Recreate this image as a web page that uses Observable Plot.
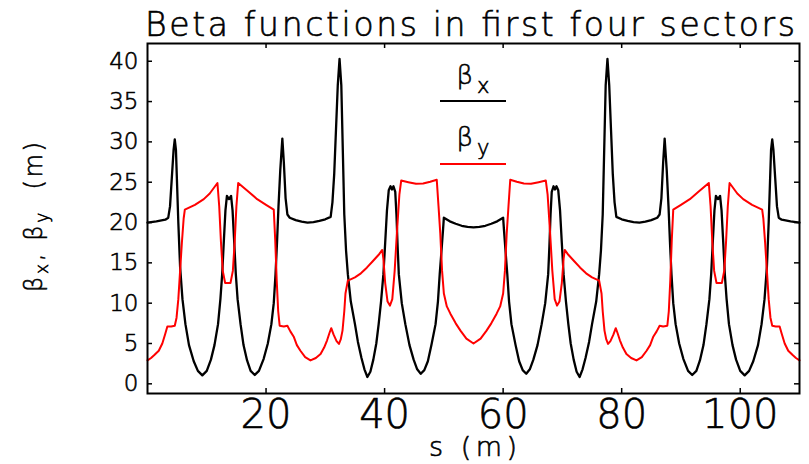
<!DOCTYPE html>
<html><head><meta charset="utf-8">
<script src="https://cdn.jsdelivr.net/npm/d3@7"></script>
<script src="https://cdn.jsdelivr.net/npm/@observablehq/plot@0.6"></script>
<style>
html,body{margin:0;padding:0;background:#fff;}
#chart{width:809px;height:464px;}
svg text{font-weight:200;stroke:#000;stroke-width:0.6px;}
</style></head><body><div id="chart"></div>
<script>
const title = "Beta functions in first four sectors";
const xTicks = [20, 40, 60, 80, 100];
const yTicks = [0, 5, 10, 15, 20, 25, 30, 35, 40];

// beta_x (black)
const bxS = [0,1.5,3,3.5,3.8,4.1,4.4,4.6,4.8,5,5.2,5.5,5.9,6.4,7,7.8,8.5,9.25,10,10.7,11.3,11.9,12.3,12.6,12.9,13.15,13.4,13.75,14.1,14.35,14.6,14.9,15.2,15.7,16.2,16.8,17.4,18.1,18.8,19.6,20.3,20.9,21.3,21.6,21.85,22.1,22.4,22.75,23,23.3,23.6,24,25,26,27,28,29,30,30.9,31.2,31.5,31.8,32.1,32.4,32.7,32.95,33.2,33.5,33.8,34.3,35,35.5,36.1,36.6,37.1,37.6,38.1,38.6,39,39.4,39.8,40.1,40.4,40.7,41,41.25,41.5,41.8,42,42.2,42.4,42.9,43.5,44.2,44.9,45.5,46.1,46.7,47.3,47.9,48.6,49,49.3,49.6,49.85,50,51,52,53,54,55,
  56,57,58,59,60,60.15,60.4,60.7,61,61.4,62.1,62.7,63.3,63.9,64.5,65.1,65.8,66.5,67.1,67.6,67.8,68,68.2,68.5,68.75,69,69.3,69.6,69.9,70.2,70.6,71,71.4,71.9,72.4,72.9,73.4,73.9,74.5,75,75.7,76.2,76.5,76.8,77.05,77.3,77.6,77.9,78.2,78.5,78.8,79.1,80,81,82,83,84,85,86,86.4,86.7,87,87.25,87.6,87.9,88.15,88.4,88.7,89.1,89.7,90.4,91.2,91.9,92.6,93.2,93.8,94.3,94.8,95.1,95.4,95.65,95.9,96.25,96.6,96.85,97.1,97.4,97.7,98.1,98.7,99.3,100,100.75,101.5,102.2,103,103.6,104.1,104.5,104.8,105,105.2,105.4,105.6,105.9,106.2,106.5,107,108.5,110];
const bxV = [20,20.15,20.35,20.6,22,25.5,29,30.3,29,24.5,20,14.5,10.5,7.4,4.8,2.8,1.6,1.05,1.6,3,4.8,7.4,10.5,13.6,18,21.5,23.3,22.9,23.3,21.5,18,13.6,10.5,7.4,4.8,2.9,1.6,1.1,1.6,3.1,5,7.4,10,13.6,17.5,22,26.5,30.4,27.5,23,21,20.6,20.3,20.1,20,20.05,20.2,20.4,20.7,22.5,26,31.5,37,40.3,37,29,21,16.5,13.6,10.2,7.4,5.2,3.2,1.8,0.85,1.5,3,5,7.4,10.2,13.6,17.5,21.5,24,24.5,24.1,24.5,23.8,21,17,13.6,10,7.4,4.8,3,1.8,1.25,1.7,2.8,4.8,7.4,10.2,13.6,16.5,19,20.6,20.15,19.85,19.6,19.45,19.4,
  19.45,19.6,19.85,20.15,20.6,19,16.5,13.6,10.2,7.4,4.8,2.8,1.7,1.25,1.8,3,4.8,7.4,10,13.6,17,21,23.8,24.5,24.1,24.5,24,21.5,17.5,13.6,10.2,7.4,5,3,1.5,0.85,1.8,3.2,5.2,7.4,10.2,13.6,16.5,21,29,37,40.3,37,31.5,26,22.5,20.7,20.4,20.2,20.05,20,20.1,20.3,20.6,21,23,27.5,30.4,26.5,22,17.5,13.6,10,7.4,5,3.1,1.6,1.1,1.6,2.9,4.8,7.4,10.5,13.6,18,21.5,23.3,22.9,23.3,21.5,18,13.6,10.5,7.4,4.8,3,1.6,1.05,1.6,2.8,4.8,7.4,10.5,14.5,20,24.5,29,30.3,29,25.5,22,20.6,20.35,20.15,20];

// beta_y (red)
const byS = [0,0.6,1.2,1.9,2.5,3,3.35,4,4.6,4.9,5.2,5.5,5.8,6.1,6.3,8,9.5,10.5,11.8,12.1,12.4,12.7,13.1,14,14.4,14.7,15,15.3,17,18.5,20,21.3,21.55,21.8,22.05,22.3,23,23.6,24.1,24.7,25.2,25.8,26.6,27.5,28.4,29.2,29.8,30.3,30.7,31,31.4,31.9,32.3,32.6,32.9,33.2,33.4,33.8,35,36,37,38,39,39.6,39.8,40.1,40.5,40.9,41.3,41.7,42.1,42.5,42.8,44,45.3,46.5,47.7,48.8,49.1,49.4,49.7,50,50.5,51.1,52,52.8,53.8,55,
  56.2,57.2,58,58.9,59.5,60,60.3,60.6,60.9,61.2,62.3,63.5,64.7,66,67.2,67.5,67.9,68.3,68.7,69.1,69.5,69.9,70.2,70.4,71,72,73,74,75,76.2,76.6,76.8,77.1,77.4,77.7,78.1,78.6,79,79.3,79.7,80.2,80.8,81.6,82.5,83.4,84.2,84.8,85.3,85.9,86.4,87,87.7,87.95,88.2,88.45,88.7,90,91.5,93,94.7,95,95.3,95.6,96,96.9,97.3,97.6,97.9,98.2,99.5,100.5,102,103.7,103.9,104.2,104.5,104.8,105.1,105.4,106,106.65,107,107.5,108.1,108.8,109.4,110];
const byV = [2.9,3.2,3.6,4.1,5,6.2,7.1,7.1,7.2,8.2,10.5,14,17.5,20.5,21.6,22.2,22.9,23.6,24.9,22,17.5,14,12.5,12.5,14,17.5,22,24.9,23.85,22.9,22.2,21.6,17.8,12.8,9,7.2,7.1,7.2,6.5,5.8,4.8,4.1,3.3,2.9,3.2,3.7,4.5,5.4,6.3,6.9,6.1,5.3,4.95,5.5,6.6,9,11.2,12.8,13.2,13.7,14.4,15.2,16,16.6,15.5,12.5,10.2,9.7,10.5,14,19,23.5,25.2,25,24.8,24.85,25.05,25.3,22,18.6,14,11.2,9.6,8.7,7.5,6.6,5.6,5,
  5.6,6.6,7.5,8.7,9.6,11.2,14,18.6,22,25.3,25.05,24.85,24.8,25,25.2,23.5,19,14,10.5,9.7,10.2,12.5,15.5,16.6,16,15.2,14.4,13.7,13.2,12.8,11.2,9,6.6,5.5,4.95,5.3,6.1,6.9,6.3,5.4,4.5,3.7,3.2,2.9,3.3,4.1,4.8,5.8,6.5,7.2,7.1,7.2,9,12.8,17.8,21.6,22.2,22.9,23.85,24.9,22,17.5,14,12.5,12.5,14,17.5,22,24.9,23.6,22.9,22.2,21.6,20.5,17.5,14,10.5,8.2,7.2,7.1,7.1,6.2,5,4.1,3.6,3.2,2.9];

if (bxS.length !== bxV.length) throw new Error("bx mismatch " + bxS.length + " " + bxV.length);
if (byS.length !== byV.length) throw new Error("by mismatch " + byS.length + " " + byV.length);

const betaX = bxS.map((s, i) => ({s, v: bxV[i]}));
const betaY = byS.map((s, i) => ({s, v: byV[i]}));

const W = 809, H = 464, mL = 147, mR = 10, mT = 43, mB = 71;
const fw = W - mL - mR, fh = H - mT - mB;
const FONT = "'DejaVu Sans', sans-serif";

const chart = Plot.plot({
  width: W, height: H,
  marginLeft: mL, marginRight: mR, marginTop: mT, marginBottom: mB,
  x: {domain: [0, 110], label: null},
  y: {domain: [-1.2, 42.2], label: null},
  style: {fontFamily: FONT, background: "white", color: "black", overflow: "visible"},
  marks: [
    Plot.line(betaX, {x: "s", y: "v", stroke: "black", strokeWidth: 2.3}),
    Plot.line(betaY, {x: "s", y: "v", stroke: "#ff0000", strokeWidth: 2}),
    Plot.frame({stroke: "black", strokeWidth: 2}),
    Plot.tickY(yTicks, {y: d => d, insetRight: fw - 5, stroke: "black", strokeWidth: 1.5}),
    Plot.tickY(yTicks, {y: d => d, insetLeft: fw - 5, stroke: "black", strokeWidth: 1.5}),
    Plot.tickX(xTicks, {x: d => d, insetBottom: fh - 5, stroke: "black", strokeWidth: 1.5}),
    Plot.tickX(xTicks, {x: d => d, insetTop: fh - 5, stroke: "black", strokeWidth: 1.5}),
    Plot.axisY({ticks: yTicks, tickSize: 0, tickPadding: 9, fontSize: 23, label: null}),
    Plot.axisX({ticks: xTicks, tickSize: 0, tickPadding: 6, fontSize: 40, label: null})
  ]
});
document.getElementById("chart").appendChild(chart);

const svg = d3.select(chart);
const xs = chart.scale("x");
const cx = (xs.range[0] + xs.range[1]) / 2;

// title
svg.append("text").attr("x", cx - 3).attr("y", 36).attr("text-anchor", "middle")
  .attr("font-family", FONT).attr("font-size", 33)
  .attr("textLength", 650).attr("lengthAdjust", "spacing").text(title);

// x label
svg.append("text").attr("x", cx).attr("y", 456).attr("text-anchor", "middle")
  .attr("font-family", FONT).attr("font-size", 27)
  .attr("textLength", 88).attr("lengthAdjust", "spacing").text("s (m)");

// y label
const yl = svg.append("text").attr("transform", "translate(42,217) rotate(-90)")
  .attr("text-anchor", "middle").attr("font-family", FONT).attr("font-size", 24)
  .attr("textLength", 150).attr("lengthAdjust", "spacing");
yl.append("tspan").text("β");
yl.append("tspan").attr("font-size", 17).attr("dy", 6).text("x");
yl.append("tspan").attr("dy", -6).text(", ");
yl.append("tspan").text("β");
yl.append("tspan").attr("font-size", 17).attr("dy", 6).text("y");
yl.append("tspan").attr("dy", -6).text("  (m)");

// legend
const legend = [
  {name: "x", color: "black", base: 84, line: 101},
  {name: "y", color: "#ff0000", base: 146, line: 164}
];
for (const l of legend) {
  const t = svg.append("text").attr("x", cx).attr("y", l.base).attr("text-anchor", "middle")
    .attr("font-family", FONT).attr("font-size", 26);
  t.append("tspan").text("β");
  t.append("tspan").attr("font-size", 21).attr("dx", 4).attr("dy", 9).text(l.name);
  svg.append("line").attr("x1", cx - 33).attr("x2", cx + 33)
    .attr("y1", l.line).attr("y2", l.line).attr("stroke", l.color).attr("stroke-width", 2);
}
</script></body></html>
